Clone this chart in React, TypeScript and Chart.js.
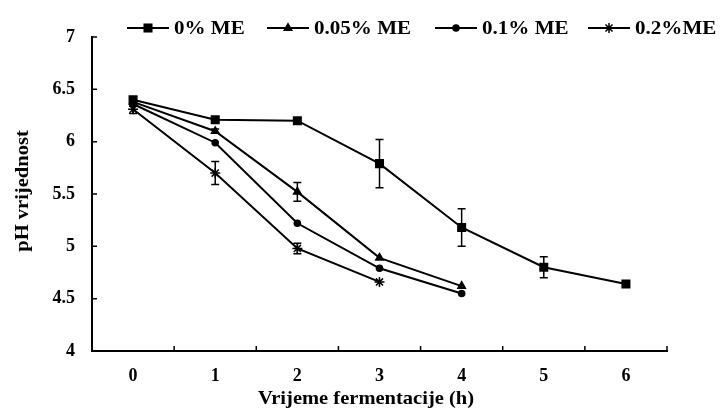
import React, { useEffect, useRef } from "react";
import { Chart, registerables } from "chart.js";

Chart.register(...registerables);

const categories = ["0", "1", "2", "3", "4", "5", "6"];
const seriesNames = ["0% ME", "0.05% ME", "0.1% ME", "0.2%ME"];
const me0 = [6.4, 6.21, 6.2, 5.79, 5.18, 4.8, 4.64];
const me0Err = [0.02, 0, 0, 0.23, 0.18, 0.1, 0];
const me005 = [6.38, 6.1, 5.52, 4.89, 4.62, null, null];
const me005Err = [0.02, 0.02, 0.09, 0, 0, 0, 0];
const me01 = [6.36, 5.99, 5.22, 4.79, 4.55, null, null];
const me01Err = [0.02, 0, 0, 0, 0, 0, 0];
const me02 = [6.31, 5.7, 4.98, 4.66, null, null, null];
const me02Err = [0.04, 0.11, 0.05, 0, 0, 0, 0];
const yTicks = [4, 4.5, 5, 5.5, 6, 6.5, 7];
const xTitle = "Vrijeme fermentacije (h)";
const yTitle = "pH vrijednost";

const FONT = "'Liberation Serif', 'Times New Roman', serif";
const styles = ["rect", "triangle", "circle", "star"];
const radii = [6.4, 5.8, 3.8, 5];

function drawMarker(ctx: CanvasRenderingContext2D, style: string, r: number, x: number, y: number) {
  ctx.save();
  ctx.fillStyle = "#000";
  ctx.strokeStyle = "#000";
  ctx.beginPath();
  if (style === "rect") {
    const s = Math.SQRT1_2 * r;
    ctx.rect(x - s, y - s, 2 * s, 2 * s);
    ctx.fill();
  } else if (style === "triangle") {
    ctx.moveTo(x, y - r);
    ctx.lineTo(x + r * 0.866, y + r * 0.5);
    ctx.lineTo(x - r * 0.866, y + r * 0.5);
    ctx.closePath();
    ctx.fill();
  } else if (style === "circle") {
    ctx.arc(x, y, r, 0, Math.PI * 2);
    ctx.fill();
  } else {
    ctx.lineWidth = 1.5;
    for (let k = 0; k < 4; k++) {
      const a = (k * Math.PI) / 4;
      ctx.moveTo(x - Math.cos(a) * r, y - Math.sin(a) * r);
      ctx.lineTo(x + Math.cos(a) * r, y + Math.sin(a) * r);
    }
    ctx.stroke();
  }
  ctx.restore();
}

function stretchedText(ctx: CanvasRenderingContext2D, text: string, x: number, y: number, sx: number, align: "left" | "center") {
  ctx.save();
  ctx.translate(x, y);
  ctx.scale(sx, 1);
  ctx.textAlign = align;
  ctx.fillText(text, 0, 0);
  ctx.restore();
}

const errorBars = {
  id: "errorBars",
  afterDatasetsDraw(chart: any) {
    const ctx = chart.ctx;
    const y = chart.scales.y;
    const x = chart.scales.x;
    ctx.save();
    ctx.strokeStyle = "#000";
    ctx.lineWidth = 1.5;
    chart.data.datasets.forEach((ds: any) => {
      const errs = ds.errors || [];
      ds.data.forEach((v: any, i: number) => {
        const e = errs[i];
        if (v == null || !e) return;
        const px = x.getPixelForValue(i);
        const top = y.getPixelForValue(v + e);
        const bot = y.getPixelForValue(v - e);
        ctx.beginPath();
        ctx.moveTo(px, top);
        ctx.lineTo(px, bot);
        ctx.moveTo(px - 4, top);
        ctx.lineTo(px + 4, top);
        ctx.moveTo(px - 4, bot);
        ctx.lineTo(px + 4, bot);
        ctx.stroke();
      });
    });
    ctx.restore();
  },
};

const inwardTicks = {
  id: "inwardTicks",
  afterDraw(chart: any) {
    const ctx = chart.ctx;
    const y = chart.scales.y;
    const area = chart.chartArea;
    ctx.save();
    ctx.strokeStyle = "#000";
    ctx.lineWidth = 1.5;
    ctx.beginPath();
    y.ticks.forEach((t: any) => {
      const py = y.getPixelForValue(t.value);
      ctx.moveTo(area.left, py);
      ctx.lineTo(area.left + 5, py);
    });
    const n = categories.length;
    const step = (area.right - area.left) / n;
    for (let i = 0; i <= n; i++) {
      const px = area.left + i * step;
      ctx.moveTo(px, area.bottom);
      ctx.lineTo(px, area.bottom - 5);
    }
    ctx.stroke();
    ctx.restore();
  },
};

const textLayer = {
  id: "textLayer",
  afterDraw(chart: any) {
    const ctx = chart.ctx;
    const starts = [127, 267, 435, 588];
    const yy = 28;
    ctx.save();
    ctx.fillStyle = "#000";
    ctx.textBaseline = "middle";
    ctx.font = `bold 18px ${FONT}`;
    chart.data.datasets.forEach((ds: any, i: number) => {
      const x0 = starts[i];
      ctx.strokeStyle = "#000";
      ctx.lineWidth = 2;
      ctx.beginPath();
      ctx.moveTo(x0, yy);
      ctx.lineTo(x0 + 42, yy);
      ctx.stroke();
      drawMarker(ctx, styles[i], radii[i], x0 + 21, yy);
      stretchedText(ctx, ds.label, x0 + 47, yy + 1, 1.17, "left");
    });
    ctx.font = `bold 19px ${FONT}`;
    stretchedText(ctx, xTitle, 366, 399, 1.08, "center");
    ctx.translate(23, 191);
    ctx.rotate(-Math.PI / 2);
    stretchedText(ctx, yTitle, 0, 0, 1.08, "center");
    ctx.restore();
  },
};

export default function App() {
  const ref = useRef<HTMLCanvasElement>(null);
  useEffect(() => {
    if (!ref.current) return;
    const values = [me0, me005, me01, me02];
    const errs = [me0Err, me005Err, me01Err, me02Err];
    const chart = new Chart(ref.current, {
      type: "line",
      data: {
        labels: categories,
        datasets: values.map((v, i) => ({
          label: seriesNames[i],
          data: v,
          errors: errs[i],
          borderColor: "#000",
          backgroundColor: "#000",
          borderWidth: 2,
          pointStyle: styles[i],
          pointRadius: radii[i],
          pointBorderWidth: i === 3 ? 1.5 : 0,
          pointBorderColor: "#000",
          pointBackgroundColor: "#000",
          tension: 0,
          spanGaps: false,
        })) as any,
      },
      options: {
        responsive: false,
        animation: false,
        layout: { padding: { left: 0, right: 54, top: 37, bottom: 0 } },
        plugins: {
          legend: { display: false },
          tooltip: { enabled: false },
        },
        scales: {
          x: {
            type: "category",
            offset: true,
            afterFit(scale: any) {
              scale.height = 61;
            },
            grid: { display: false, drawTicks: false, offset: true },
            border: { display: true, color: "#000", width: 2 },
            ticks: {
              color: "#000",
              font: { family: FONT, size: 18, weight: "bold" },
              padding: 15,
              maxRotation: 0,
            },
          },
          y: {
            min: 4,
            max: 7,
            afterBuildTicks(scale: any) {
              scale.ticks = yTicks.map((v) => ({ value: v }));
            },
            afterFit(scale: any) {
              scale.width = 92;
            },
            grid: { display: false, drawTicks: false },
            border: { display: true, color: "#000", width: 2 },
            ticks: {
              color: "#000",
              font: { family: FONT, size: 18, weight: "bold" },
              padding: 17,
              callback: (v: any) => String(v),
            },
          },
        },
      },
      plugins: [errorBars, inwardTicks, textLayer],
    });
    return () => chart.destroy();
  }, []);
  return (
    <div style={{ position: "fixed", left: 0, top: 0, width: 721, height: 412, background: "#fff" }}>
      <canvas ref={ref} width={721} height={412} />
    </div>
  );
}
